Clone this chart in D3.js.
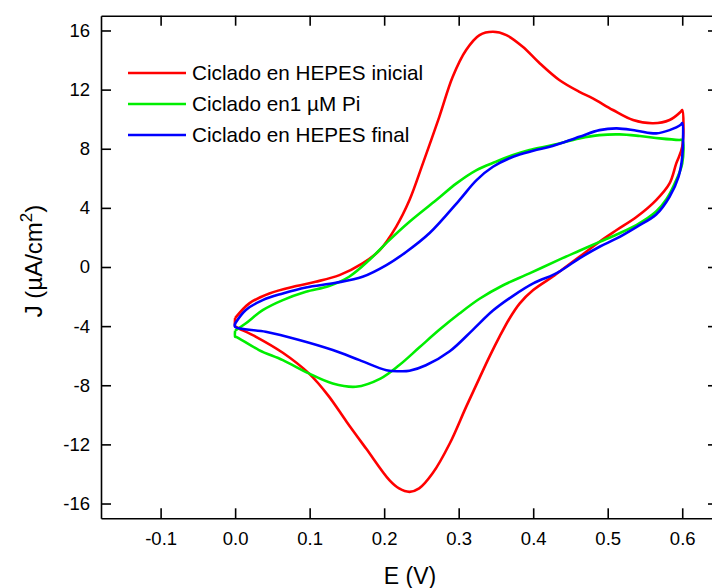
<!DOCTYPE html>
<html>
<head>
<meta charset="utf-8">
<script src="https://cdn.jsdelivr.net/npm/d3@7"></script>
<style>
  html, body { margin: 0; padding: 0; background: #fff; }
  svg { display: block; font-family: "Liberation Sans", Arial, sans-serif; }
</style>
</head>
<body>
<svg id="chart" width="712" height="588"></svg>
<script>
// ---- data ----
const seriesNames = ["Ciclado en HEPES inicial", "Ciclado en1 \u00B5M Pi", "Ciclado en HEPES final"];
const seriesColors = ["#ff0000", "#00ee00", "#0000ff"];

const xTicks = [-0.1, 0.0, 0.1, 0.2, 0.3, 0.4, 0.5, 0.6];
const yTicks = [-16, -12, -8, -4, 0, 4, 8, 12, 16];

const redE = [0.000, 0.019, 0.046, 0.082, 0.108, 0.140, 0.171, 0.194, 0.216, 0.234, 0.252, 0.274, 0.292, 0.310, 0.328, 0.346, 0.364, 0.386, 0.409, 0.435, 0.462, 0.480, 0.507, 0.534, 0.561, 0.583, 0.598, 0.600,
              0.600, 0.592, 0.583, 0.565, 0.539, 0.512, 0.489, 0.462, 0.435, 0.426, 0.400, 0.382, 0.368, 0.355, 0.342, 0.328, 0.310, 0.288, 0.265, 0.247, 0.234, 0.220, 0.207, 0.176, 0.150, 0.125, 0.099, 0.064, 0.028, 0.001, 0.000, 0.000];
const redJ = [-3.46, -2.46, -1.79, -1.29, -1.00, -0.55, 0.24, 1.14, 2.72, 4.53, 7.01, 10.16, 12.87, 14.68, 15.69, 15.91, 15.69, 14.90, 13.77, 12.65, 11.85, 11.41, 10.62, 9.94, 9.72, 9.94, 10.50, 10.62,
              8.13, 7.01, 5.66, 4.53, 3.40, 2.50, 1.71, 0.69, -0.32, -0.66, -1.56, -2.46, -3.50, -4.70, -6.00, -7.50, -9.46, -11.94, -13.96, -14.98, -15.21, -14.98, -14.42, -12.30, -10.50, -8.70, -7.20, -5.80, -4.72, -4.05, -4.00, -3.46];

const greenE = [0.000, 0.014, 0.037, 0.064, 0.095, 0.126, 0.153, 0.180, 0.207, 0.234, 0.270, 0.297, 0.324, 0.350, 0.373, 0.395, 0.426, 0.462, 0.489, 0.516, 0.543, 0.570, 0.596, 0.600,
                0.600, 0.590, 0.579, 0.565, 0.539, 0.512, 0.489, 0.462, 0.435, 0.395, 0.359, 0.328, 0.301, 0.274, 0.247, 0.220, 0.195, 0.162, 0.131, 0.099, 0.064, 0.032, 0.001, 0.000, 0.000];
const greenJ = [-4.30, -3.82, -2.92, -2.24, -1.68, -1.29, -0.66, 0.47, 1.82, 3.06, 4.53, 5.66, 6.56, 7.12, 7.57, 7.91, 8.25, 8.70, 8.92, 8.97, 8.86, 8.70, 8.59, 8.59,
                7.00, 5.66, 4.60, 3.75, 2.85, 2.20, 1.70, 1.10, 0.50, -0.43, -1.25, -2.15, -3.15, -4.25, -5.45, -6.65, -7.55, -8.10, -7.88, -7.20, -6.30, -5.62, -4.72, -4.72, -4.30];

const blueE = [0.000, 0.014, 0.037, 0.064, 0.095, 0.135, 0.171, 0.203, 0.229, 0.261, 0.301, 0.324, 0.346, 0.373, 0.400, 0.426, 0.462, 0.489, 0.512, 0.539, 0.565, 0.583, 0.598, 0.600,
               0.600, 0.595, 0.583, 0.565, 0.539, 0.512, 0.489, 0.462, 0.435, 0.426, 0.400, 0.373, 0.346, 0.319, 0.288, 0.256, 0.234, 0.220, 0.203, 0.167, 0.131, 0.086, 0.041, 0.000, 0.000];
const blueJ = [-3.82, -2.92, -2.24, -1.79, -1.38, -1.07, -0.66, 0.13, 1.00, 2.30, 4.53, 5.88, 6.78, 7.46, 7.86, 8.18, 8.81, 9.26, 9.38, 9.22, 9.04, 9.26, 9.62, 9.74,
               7.46, 6.10, 4.75, 3.55, 2.72, 1.93, 1.37, 0.58, -0.32, -0.55, -1.11, -1.95, -2.95, -4.25, -5.70, -6.65, -7.02, -7.05, -6.98, -6.30, -5.62, -4.94, -4.38, -4.05, -3.82];

const seriesE = [redE, greenE, blueE];
const seriesJ = [redJ, greenJ, blueJ];

// ---- layout ----
const svg = d3.select("#chart");
const pLeft = 101, pRight = 718, pTop = 15.7, pBottom = 518.3;

const x = d3.scaleLinear().domain([-0.18, 0.648]).range([pLeft, pRight]);
const y = d3.scaleLinear().domain([-17, 17]).range([pBottom, pTop]);

const tickLen = 10;
const axisColor = "#000";

const line = d3.line()
  .x(d => x(d[0]))
  .y(d => y(d[1]))
  .curve(d3.curveCatmullRom.alpha(0.5));

svg.append("defs").append("clipPath").attr("id", "clip")
  .append("rect").attr("x", pLeft).attr("y", pTop).attr("width", pRight - pLeft).attr("height", pBottom - pTop);

const g = svg.append("g").attr("clip-path", "url(#clip)");
seriesE.forEach((E, i) => {
  const pts = E.map((e, k) => [e, seriesJ[i][k]]);
  g.append("path")
    .attr("d", line(pts))
    .attr("fill", "none")
    .attr("stroke", seriesColors[i])
    .attr("stroke-width", 2.6)
    .attr("stroke-linejoin", "round");
});

const fmtX = d => d3.format(".1f")(d).replace("\u2212", "-");
const fmtY = d => String(d);

const axB = d3.axisBottom(x).tickValues(xTicks).tickSizeInner(-tickLen).tickSizeOuter(0).tickFormat(fmtX).tickPadding(14);
const axT = d3.axisTop(x).tickValues(xTicks).tickSizeInner(-tickLen).tickSizeOuter(0).tickFormat("");
const axL = d3.axisLeft(y).tickValues(yTicks).tickSizeInner(-tickLen).tickSizeOuter(0).tickFormat(fmtY).tickPadding(11);
const axR = d3.axisRight(y).tickValues(yTicks).tickSizeInner(-tickLen).tickSizeOuter(0).tickFormat("");

function style(sel) {
  sel.selectAll("path.domain").attr("stroke", axisColor).attr("stroke-width", 1.6);
  sel.selectAll(".tick line").attr("stroke", axisColor).attr("stroke-width", 1.6);
  sel.selectAll(".tick text").attr("fill", "#000").style("font-size", "18.5px")
     .style("font-family", "'Liberation Sans', Arial, sans-serif");
}

svg.append("g").attr("transform", `translate(0,${pBottom})`).call(axB).call(style);
svg.append("g").attr("transform", `translate(0,${pTop})`).call(axT).call(style);
svg.append("g").attr("transform", `translate(${pLeft},0)`).call(axL).call(style);
svg.append("g").attr("transform", `translate(${pRight},0)`).call(axR).call(style);

svg.append("text")
  .attr("x", 410).attr("y", 584)
  .attr("text-anchor", "middle")
  .style("font-size", "23px")
  .text("E (V)");

const yt = svg.append("text")
  .attr("transform", "translate(42,261) rotate(-90)")
  .attr("text-anchor", "middle")
  .style("font-size", "24px");
yt.append("tspan").text("J (\u00B5A/cm");
yt.append("tspan").attr("dy", -10).style("font-size", "17px").text("2");
yt.append("tspan").attr("dy", 10).text(")");

const legY = [73, 104, 135];
seriesNames.forEach((name, i) => {
  svg.append("line")
    .attr("x1", 128).attr("x2", 186)
    .attr("y1", legY[i]).attr("y2", legY[i])
    .attr("stroke", seriesColors[i]).attr("stroke-width", 2.6);
  svg.append("text")
    .attr("x", 192).attr("y", legY[i] + 7)
    .style("font-size", "20.7px")
    .text(name);
});
</script>
</body>
</html>
